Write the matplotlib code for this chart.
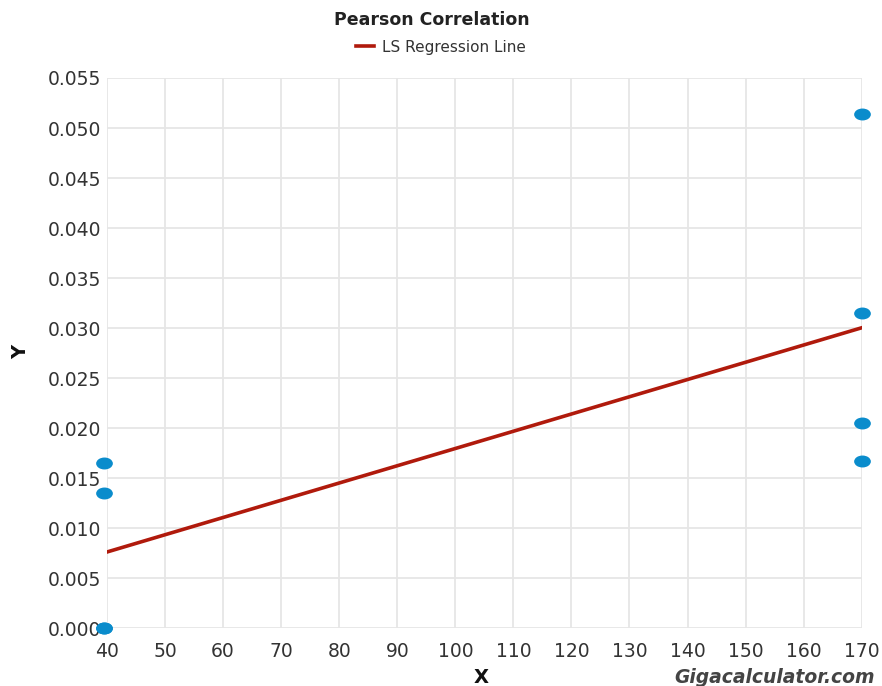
import matplotlib
matplotlib.use('Agg')
import matplotlib.pyplot as plt
from matplotlib.path import Path
from matplotlib.transforms import Affine2D
import numpy as np

# sample data
x_vals = [39.4, 39.4, 39.4, 39.4, 170, 170, 170, 170]
y_vals = [0.0165, 0.0135, 0.0, 0.0, 0.0514, 0.0315, 0.0205, 0.0167]
x_ticks = list(range(40, 171, 10))
y_ticks = [0.000, 0.005, 0.010, 0.015, 0.020, 0.025, 0.030,
           0.035, 0.040, 0.045, 0.050, 0.055]

# least squares fit
slope, intercept = np.polyfit(x_vals, y_vals, 1)
line_x = np.array([min(x_vals), max(x_vals)])
line_y = slope * line_x + intercept

plt.rcParams['font.family'] = 'DejaVu Sans'

fig = plt.figure(figsize=(8.82, 6.86), dpi=100)
ax = fig.add_axes([0.1213, 0.0845, 0.8557, 0.8018])

# flattened dot marker
ellipse = Path.unit_circle().transformed(Affine2D().scale(1.45, 1.0))

ax.plot(line_x, line_y, color='#b01a0c', lw=2.6, label='LS Regression Line', zorder=3)
ax.plot(x_vals, y_vals, ls='none', marker=ellipse, ms=11, color='#0a8ccc',
        mec='#0a8ccc', zorder=4, clip_on=False)

ax.set_xlim(40, 170)
ax.set_ylim(0, 0.055)
ax.set_xticks(x_ticks)
ax.set_yticks(y_ticks)
ax.set_yticklabels(['%.3f' % v for v in y_ticks])
ax.grid(True, color='#e6e6e6', lw=1.3)
ax.set_axisbelow(True)
for s in ax.spines.values():
    s.set_visible(False)
ax.tick_params(length=0, labelsize=13.5, colors='#333333')
ax.tick_params(axis='x', pad=10)
ax.tick_params(axis='y', pad=4)

fig.text(0.49, 0.971, 'Pearson Correlation', ha='center', va='center',
         fontsize=12.5, fontweight='bold', color='#222222')
fig.legend(loc='center', bbox_to_anchor=(0.5, 0.931), frameon=False,
           fontsize=11, handlelength=1.2, handletextpad=0.5, labelcolor='#333333')

fig.text(0.546, 0.013, 'X', ha='center', va='center', fontsize=14,
         fontweight='bold', color='#111111')
fig.text(0.023, 0.487, 'Y', ha='center', va='center', fontsize=14,
         fontweight='bold', color='#111111', rotation=90)
fig.text(0.992, 0.013, 'Gigacalculator.com', ha='right', va='center',
         fontsize=13.5, fontweight='bold', style='italic', color='#444444')

fig.savefig('out.png', dpi=100)
